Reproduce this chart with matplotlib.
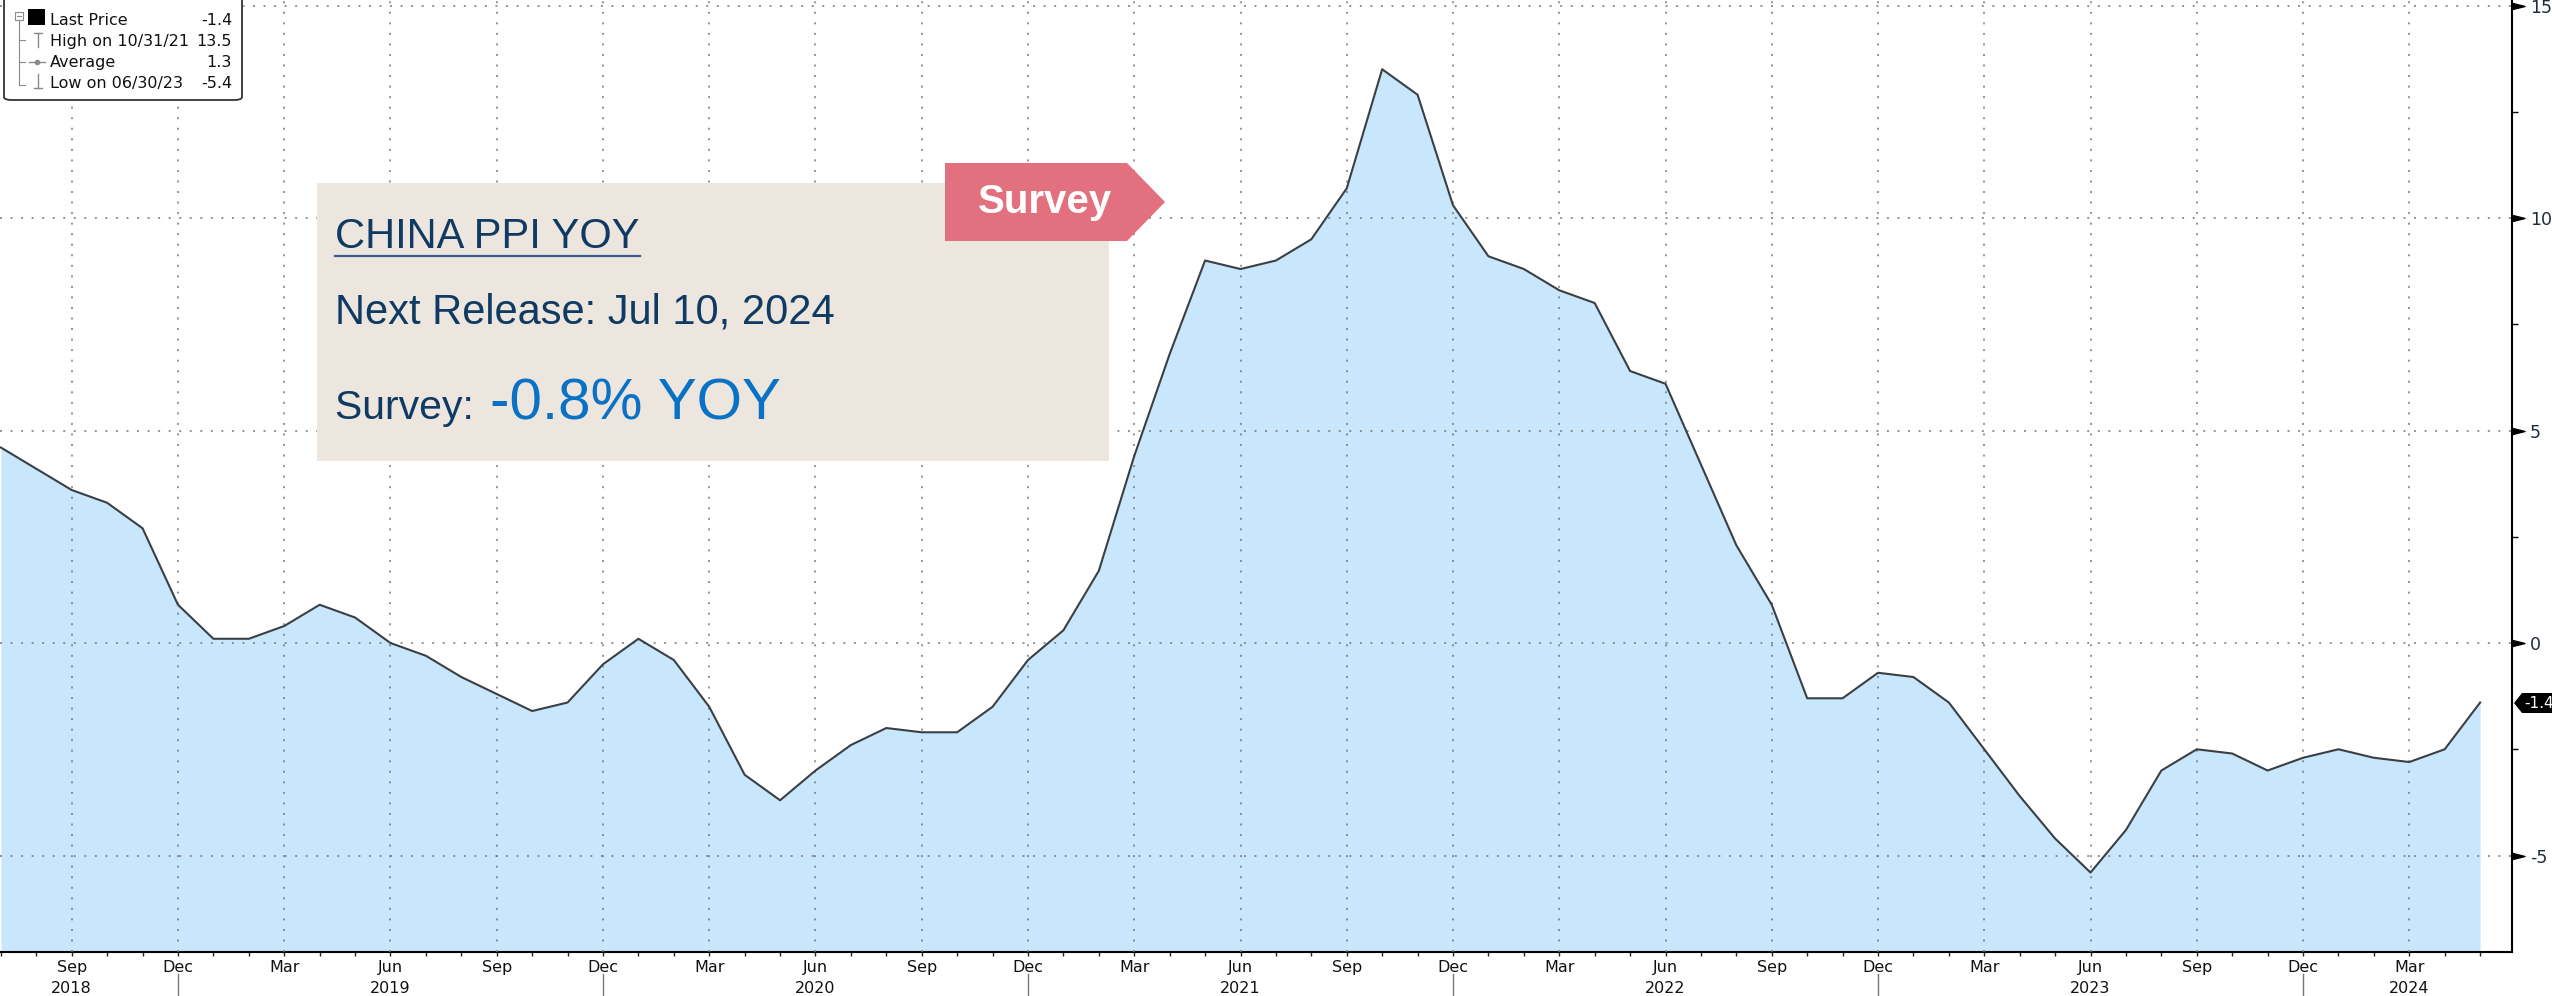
import numpy as np
import matplotlib
matplotlib.use("Agg")
import matplotlib.pyplot as plt
from matplotlib.patches import Polygon, Rectangle, FancyBboxPatch
from matplotlib.lines import Line2D
from matplotlib.path import Path
from matplotlib.transforms import blended_transform_factory

plt.rcParams['axes.unicode_minus'] = False

# ---------------- data ----------------
start_year, start_month = 2018, 7   # first observation: Jul 2018 (month-end)
ppi_yoy = [4.6, 4.1, 3.6, 3.3, 2.7, 0.9,
           0.1, 0.1, 0.4, 0.9, 0.6, 0.0, -0.3, -0.8, -1.2, -1.6, -1.4, -0.5,
           0.1, -0.4, -1.5, -3.1, -3.7, -3.0, -2.4, -2.0, -2.1, -2.1, -1.5, -0.4,
           0.3, 1.7, 4.4, 6.8, 9.0, 8.8, 9.0, 9.5, 10.7, 13.5, 12.9, 10.3,
           9.1, 8.8, 8.3, 8.0, 6.4, 6.1, 4.2, 2.3, 0.9, -1.3, -1.3, -0.7,
           -0.8, -1.4, -2.5, -3.6, -4.6, -5.4, -4.4, -3.0, -2.5, -2.6, -3.0, -2.7,
           -2.5, -2.7, -2.8, -2.5, -1.4]
month_names = ['Jan', 'Feb', 'Mar', 'Apr', 'May', 'Jun',
               'Jul', 'Aug', 'Sep', 'Oct', 'Nov', 'Dec']
quarter_months = ['Mar', 'Jun', 'Sep', 'Dec']
y_ticks = [-5, 0, 5, 10, 15]
legend_labels = ['Last Price', 'High on 10/31/21', 'Average', 'Low on 06/30/23']
legend_values = ['-1.4', '13.5', '1.3', '-5.4']
last_price = -1.4
title_text = 'CHINA PPI YOY'
release_text = 'Next Release: Jul 10, 2024'
survey_label = 'Survey: '
survey_value = '-0.8% YOY'
tag_text = 'Survey'

# ---------------- derived month info ----------------
n = len(ppi_yoy)
x = np.arange(n)
months = [(start_month - 1 + i) % 12 for i in range(n)]
years = [start_year + (start_month - 1 + i) // 12 for i in range(n)]
q_idx = [i for i in range(n) if month_names[months[i]] in quarter_months]
q_lab = [month_names[months[i]] for i in q_idx]
dec_idx = [i for i in range(n) if months[i] == 11]

W, H = 2552, 996
fig = plt.figure(figsize=(W / 100, H / 100), dpi=100)
fig.patch.set_facecolor('white')


def fx(px):
    return px / W


def fy(py):
    return 1 - py / H


ax = fig.add_axes([0, fy(952), fx(2512), 1 - fy(952)])
ax.set_xlim(-0.025, 70.9)
ax.set_ylim(-7.27, 15.13)

ax.fill_between(x, ppi_yoy, -7.27, color='#C8E6FC', zorder=1, linewidth=0)
ax.plot(x, ppi_yoy, color='#3a3f44', lw=1.5, zorder=3)

# grid and ticks
ax.set_axisbelow(False)
ax.set_xticks(q_idx)
ax.set_xticklabels(q_lab)
ax.set_xticks(x, minor=True)
ax.set_yticks(y_ticks)
ax.set_yticklabels([str(v) for v in y_ticks])
ax.set_yticks([-2.5, 2.5, 7.5, 12.5], minor=True)
ax.grid(True, which='major', color='#777777', linestyle=(0, (1.3, 5.6)), linewidth=1.1)

for s in ['top', 'left']:
    ax.spines[s].set_visible(False)
for s in ['right', 'bottom']:
    ax.spines[s].set_color('black')
    ax.spines[s].set_linewidth(1.5)

ax.yaxis.tick_right()
ax.tick_params(axis='y', which='major', length=0, pad=13, labelsize=12.5,
               labelcolor='#1f2a3c')
ax.tick_params(axis='y', which='minor', length=4, width=1, color='black')
ax.tick_params(axis='x', which='both', length=3, width=1, color='#222222')
ax.tick_params(axis='x', which='major', pad=3, labelsize=11.5, labelcolor='#111111')

# triangle markers on right axis
tri = Path([(0, -0.25), (1, 0), (0, 0.25), (0, -0.25)],
           [Path.MOVETO, Path.LINETO, Path.LINETO, Path.CLOSEPOLY])
ytrans = blended_transform_factory(ax.transAxes, ax.transData)
ax.plot([1.0] * len(y_ticks), y_ticks, linestyle='none', marker=tri,
        markersize=18, color='black', transform=ytrans, clip_on=False, zorder=5)

# year labels and separators
xtrans = blended_transform_factory(ax.transData, fig.transFigure)
for i in dec_idx:
    fig.add_artist(Line2D([i, i], [fy(974), 0], transform=xtrans,
                          color='#777777', lw=1))
for yr in sorted(set(years)):
    idx = [i for i in range(n) if years[i] == yr]
    pos = int(np.floor(np.mean(idx)))
    fig.text(pos, fy(993), str(yr), transform=xtrans, ha='center', va='baseline',
             fontsize=11.5, color='#111111')

# last price tag
fig.add_artist(Polygon([(fx(2514), fy(703)), (fx(2522), fy(693)), (fx(2560), fy(693)),
                        (fx(2560), fy(713)), (fx(2522), fy(713))], closed=True,
                       facecolor='black', edgecolor='none'))
fig.text(fx(2524), fy(703), f'{last_price:.1f}', color='white', fontsize=11,
         ha='left', va='center')

# ---------------- info box ----------------
fig.add_artist(Rectangle((fx(317), fy(461)), fx(1109) - fx(317), fy(183) - fy(461),
                         facecolor='#EDE6DF', edgecolor='none'))
navy = '#0E3A63'
fig.text(fx(335), fy(248), title_text, fontsize=30, color=navy,
         family='Liberation Sans', ha='left', va='baseline')
fig.add_artist(Line2D([fx(335), fx(640)], [fy(256), fy(256)], color='#2f5f8f', lw=1.6))
fig.text(fx(335), fy(323), release_text, fontsize=30, color=navy,
         family='Liberation Sans', ha='left', va='baseline')
fig.text(fx(335), fy(419), survey_label, fontsize=29.5, color=navy,
         family='Liberation Sans', ha='left', va='baseline')
fig.text(fx(490), fy(419), survey_value, fontsize=42, color='#0A72C4',
         family='Liberation Sans', ha='left', va='baseline')

# Survey tag
fig.add_artist(Polygon([(fx(945), fy(163)), (fx(1127), fy(163)), (fx(1165), fy(202)),
                        (fx(1127), fy(241)), (fx(945), fy(241))], closed=True,
                       facecolor='#E2707F', edgecolor='none'))
fig.text(fx(1045), fy(202), tag_text, fontsize=29, color='white', weight='bold',
         family='Liberation Sans', ha='center', va='center')

# ---------------- legend ----------------
fig.add_artist(FancyBboxPatch((fx(4), fy(100)), fx(242) - fx(4), fy(-4) - fy(100),
                              boxstyle='round,pad=0,rounding_size=0.003',
                              facecolor='white', edgecolor='#333333', lw=1.3))
gray = '#8a8a8a'
fig.add_artist(Rectangle((fx(15), fy(20)), fx(8), fy(12) - fy(20),
                         facecolor='white', edgecolor=gray, lw=0.8))
fig.add_artist(Line2D([fx(17), fx(21)], [fy(16), fy(16)], color=gray, lw=0.8))
fig.add_artist(Line2D([fx(19), fx(19)], [fy(20), fy(85)], color=gray, lw=0.8))
for yy in [40, 62, 85]:
    fig.add_artist(Line2D([fx(19), fx(25)], [fy(yy), fy(yy)], color=gray, lw=0.8))
fig.add_artist(Rectangle((fx(28), fy(25)), fx(17), fy(9) - fy(25),
                         facecolor='black', edgecolor='none'))
fig.add_artist(Line2D([fx(34), fx(42)], [fy(33), fy(33)], color=gray, lw=1))
fig.add_artist(Line2D([fx(38), fx(38)], [fy(33), fy(47)], color=gray, lw=1))
fig.add_artist(Line2D([fx(29), fx(45)], [fy(62), fy(62)], color=gray, lw=1))
fig.add_artist(Line2D([fx(37)], [fy(62)], marker='o', markersize=3, color=gray))
fig.add_artist(Line2D([fx(34), fx(42)], [fy(88), fy(88)], color=gray, lw=1))
fig.add_artist(Line2D([fx(38), fx(38)], [fy(74), fy(88)], color=gray, lw=1))
for lab, val, yy in zip(legend_labels, legend_values, [25, 46, 67, 88]):
    fig.text(fx(50), fy(yy), lab, fontsize=11.5, color='#111111', ha='left', va='baseline')
    fig.text(fx(232), fy(yy), val, fontsize=11.5, color='#111111', ha='right', va='baseline')

fig.savefig('out.png', dpi=100)
